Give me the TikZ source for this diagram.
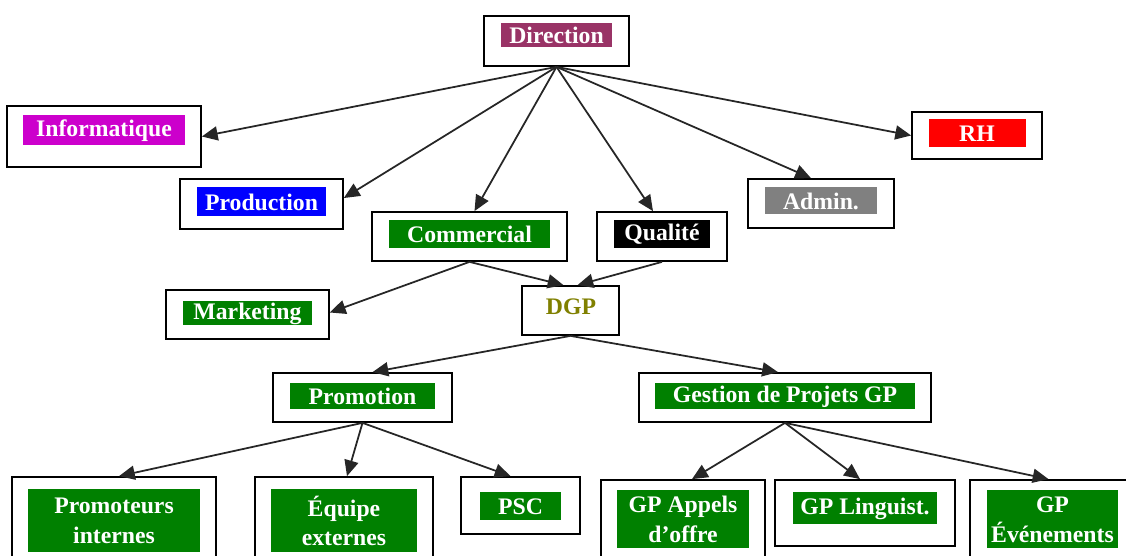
\documentclass[tikz,border=0pt]{standalone}
\usepackage{fontspec}
\setmainfont{Liberation Serif}
\usepackage{tikz}
\usetikzlibrary{arrows.meta,positioning}
\definecolor{dirpurple}{RGB}{153,51,102}
\definecolor{infomag}{RGB}{204,0,204}
\definecolor{prodblue}{RGB}{0,0,255}
\definecolor{orggreen}{RGB}{0,128,0}
\definecolor{admgray}{RGB}{128,128,128}
\definecolor{rhred}{RGB}{255,0,0}
\definecolor{dgpolive}{RGB}{128,128,0}
\tikzset{
  unit/.style={draw, line width=1pt, fill=white, inner sep=0pt},
  tag/.style={fill=#1, text=white, inner sep=0pt, minimum height=0.54cm, align=center,
    font=\bfseries\fontsize{13.5}{17}\selectfont},
  link/.style={line width=1pt, draw=black!85, -{Triangle[length=9pt,width=8pt]}}
}
\begin{document}
\begin{tikzpicture}[x=0.02cm, y=-0.02cm]
\fill[white] (0,0) rectangle (1126,555);
\useasboundingbox (0,0) rectangle (1126,555);
% top level
\node[unit, minimum width=2.9cm, minimum height=1cm] (dir) at (556.5,41) {};
\node[tag=dirpurple, minimum width=2.24cm, minimum height=0.48cm, below=0.16cm of dir.north] (dir-t) {Direction};
% services
\node[unit, minimum width=3.88cm, minimum height=1.22cm] (info) at (104,136.5) {};
\node[tag=infomag, minimum width=3.24cm, minimum height=0.6cm, below=0.2cm of info.north] (info-t) {Informatique};
\node[unit, minimum width=3.26cm, minimum height=1cm] (prod) at (261.5,204) {};
\node[tag=prodblue, minimum width=2.58cm, minimum height=0.58cm, below=0.18cm of prod.north] (prod-t) {Production};
\node[unit, minimum width=3.9cm, minimum height=0.98cm] (comm) at (469.5,236.5) {};
\node[tag=orggreen, minimum width=3.24cm, minimum height=0.56cm, below=0.18cm of comm.north] (comm-t) {Commercial};
\node[unit, minimum width=2.6cm, minimum height=0.98cm] (qual) at (662,236.5) {};
\node[tag=black, minimum width=1.92cm, minimum height=0.56cm, below=0.18cm of qual.north] (qual-t) {Qualité};
\node[unit, minimum width=2.92cm, minimum height=0.98cm] (admin) at (821,203.5) {};
\node[tag=admgray, minimum width=2.26cm, below=0.18cm of admin.north] (admin-t) {Admin.};
\node[unit, minimum width=2.6cm, minimum height=0.94cm] (rh) at (977,135.5) {};
\node[tag=rhred, minimum width=1.94cm, minimum height=0.56cm, below=0.16cm of rh.north] (rh-t) {RH};
% DGP
\node[unit, minimum width=1.94cm, minimum height=0.98cm] (dgp) at (570.5,310.5) {};
\node[text=dgpolive, inner sep=0pt, font=\bfseries\fontsize{13.5}{17}\selectfont] (dgp-t) at (571,307) {DGP};
\node[unit, minimum width=3.26cm, minimum height=0.98cm] (mkt) at (247.5,314.5) {};
\node[tag=orggreen, minimum width=2.6cm, minimum height=0.48cm, below=0.24cm of mkt.north] (mkt-t) {Marketing};
\node[unit, minimum width=3.58cm, minimum height=0.98cm] (prom) at (362.5,397.5) {};
\node[tag=orggreen, minimum width=2.9cm, minimum height=0.52cm, below=0.22cm of prom.north] (prom-t) {Promotion};
\node[unit, minimum width=5.84cm, minimum height=0.98cm] (gp) at (785,397.5) {};
\node[tag=orggreen, minimum width=5.2cm, minimum height=0.52cm, below=0.22cm of gp.north] (gp-t) {Gestion de Projets GP};
% bottom row
\node[unit, minimum width=4.08cm, minimum height=1.8cm] (pint) at (114,522) {};
\node[tag=orggreen, minimum width=3.46cm, minimum height=1.26cm, below=0.26cm of pint.north] (pint-t) {Promoteurs\\internes};
\node[unit, minimum width=3.56cm, minimum height=1.8cm] (eqext) at (344,522) {};
\node[tag=orggreen, minimum width=2.92cm, minimum height=1.26cm, below=0.26cm of eqext.north] (eqext-t) {Équipe\\externes};
\node[unit, minimum width=2.38cm, minimum height=1.14cm] (psc) at (520.5,505.5) {};
\node[tag=orggreen, minimum width=1.62cm, minimum height=0.56cm, below=0.32cm of psc.north] (psc-t) {PSC};
\node[unit, minimum width=3.28cm, minimum height=1.8cm] (gpao) at (683,525) {};
\node[tag=orggreen, minimum width=2.64cm, minimum height=1.16cm, below=0.22cm of gpao.north] (gpao-t) {GP Appels\\d’offre};
\node[unit, minimum width=3.6cm, minimum height=1.32cm] (gpling) at (865,513) {};
\node[tag=orggreen, minimum width=2.88cm, minimum height=0.64cm, below=0.26cm of gpling.north] (gpling-t) {GP Linguist.};
\node[unit, minimum width=3.3cm, minimum height=1.8cm] (gpev) at (1052.5,525) {};
\node[tag=orggreen, minimum width=2.62cm, minimum height=1.16cm, below=0.22cm of gpev.north] (gpev-t) {GP\\Événements};
% connectors
\draw[link] (dir.south) -- (info.east);
\draw[link] (dir.south) -- ([yshift=0.12cm]prod.east);
\draw[link] (dir.south) -- ([xshift=0.1cm]comm.north);
\draw[link] (dir.south) -- ([xshift=-0.18cm]qual.north);
\draw[link] (dir.south) -- ([xshift=-0.2cm]admin.north);
\draw[link] (dir.south) -- (rh.west);
\draw[link] (comm.south) -- ([yshift=0.04cm]mkt.east);
\draw[link] (comm.south) -- ([xshift=-0.14cm]dgp.north);
\draw[link] (qual.south) -- ([xshift=0.14cm]dgp.north);
\draw[link] (dgp.south) -- ([xshift=0.2cm]prom.north);
\draw[link] (dgp.south) -- ([xshift=-0.14cm]gp.north);
\draw[link] (prom.south) -- ([xshift=0.1cm]pint.north);
\draw[link] (prom.south) -- ([xshift=0.06cm]eqext.north);
\draw[link] (prom.south) -- ([xshift=-0.2cm]psc.north);
\draw[link] (gp.south) -- ([xshift=0.18cm]gpao.north);
\draw[link] (gp.south) -- ([xshift=-0.1cm]gpling.north);
\draw[link] (gp.south) -- ([xshift=-0.08cm]gpev.north);
\end{tikzpicture}
\end{document}
